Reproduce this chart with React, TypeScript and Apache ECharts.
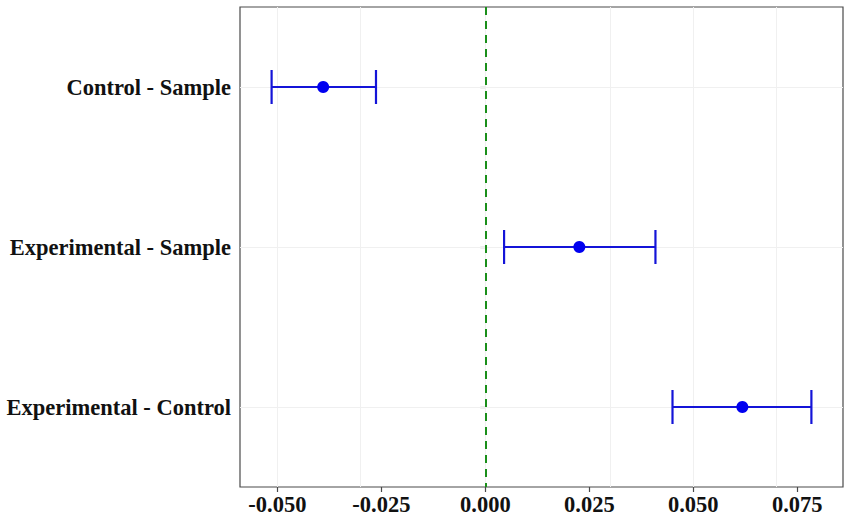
import React, { useEffect, useRef } from "react";
import * as echarts from "echarts";

const categories = ["Control - Sample", "Experimental - Sample", "Experimental - Control"];
const estimates = [-0.039, 0.0226, 0.0618];
const lowerCI = [-0.0514, 0.0045, 0.045];
const upperCI = [-0.0263, 0.0409, 0.0784];
const xTicks = [-0.05, -0.025, 0, 0.025, 0.05, 0.075];
const xMin = -0.059;
const xMax = 0.086;
const refValue = 0;

const FONT = "'Liberation Serif', 'Times New Roman', serif";

export default function App() {
  const ref = useRef<HTMLDivElement>(null);
  useEffect(() => {
    document.body.style.margin = "0";
    if (!ref.current) return;
    const chart = echarts.init(ref.current, undefined, { renderer: "svg" });
    const errData = categories.map((_, i) => [lowerCI[i], upperCI[i], i]);
    const ptData = categories.map((_, i) => [estimates[i], i]);
    chart.setOption({
      animation: false,
      backgroundColor: "#ffffff",
      grid: {
        left: 240,
        right: 8,
        top: 7,
        bottom: 34,
        show: true,
        borderColor: "#4a4a4a",
        borderWidth: 1.2,
        backgroundColor: "transparent",
      },
      xAxis: {
        type: "value",
        min: xMin,
        max: xMax,
        splitLine: { show: false },
        axisLine: { show: false },
        axisTick: {
          show: true,
          customValues: xTicks,
          length: 5,
          lineStyle: { color: "#4a4a4a", width: 1.2 },
        },
        axisLabel: {
          customValues: xTicks,
          formatter: (v: number) => v.toFixed(3),
          fontFamily: FONT,
          fontWeight: "bold",
          fontSize: 22.5,
          color: "#111111",
          margin: 6,
        },
      },
      yAxis: {
        type: "category",
        data: categories,
        inverse: true,
        boundaryGap: true,
        splitLine: { show: false },
        axisLine: { show: false },
        axisTick: {
          show: true,
          alignWithLabel: true,
          length: 5,
          lineStyle: { color: "#4a4a4a", width: 1.2 },
        },
        axisLabel: {
          fontFamily: FONT,
          fontWeight: "bold",
          fontSize: 22.5,
          color: "#111111",
          margin: 9,
        },
      },
      series: [
        {
          type: "line",
          data: [],
          z: 1,
          silent: true,
          markLine: {
            z: 1,
            silent: true,
            symbol: "none",
            label: { show: false },
            lineStyle: { color: "#f0f0f0", width: 1, type: "solid" },
            data: [
              ...xTicks.map((v) => ({ xAxis: v })),
              ...categories.map((c) => ({ yAxis: c })),
            ],
          },
        },
        {
          type: "line",
          data: [],
          z: 2,
          silent: true,
          markLine: {
            z: 2,
            silent: true,
            symbol: "none",
            label: { show: false },
            lineStyle: { color: "#1a8f1a", width: 2, type: [8, 6] },
            data: [{ xAxis: refValue }],
          },
        },
        {
          type: "custom",
          z: 4,
          encode: { x: [0, 1], y: 2 },
          data: errData,
          renderItem: (params: any, api: any) => {
            const y = api.value(2);
            const p1 = api.coord([api.value(0), y]);
            const p2 = api.coord([api.value(1), y]);
            const h = 17;
            const mk = () => ({ stroke: "#1414d8", lineWidth: 2.2 });
            return {
              type: "group",
              children: [
                { type: "line", shape: { x1: p1[0], y1: p1[1], x2: p2[0], y2: p2[1] }, style: mk() },
                { type: "line", shape: { x1: p1[0], y1: p1[1] - h, x2: p1[0], y2: p1[1] + h }, style: mk() },
                { type: "line", shape: { x1: p2[0], y1: p2[1] - h, x2: p2[0], y2: p2[1] + h }, style: mk() },
              ],
            };
          },
        },
        {
          type: "scatter",
          z: 5,
          data: ptData,
          symbol: "circle",
          symbolSize: 12,
          itemStyle: { color: "#0000f0", opacity: 1 },
        },
      ],
    });
    return () => chart.dispose();
  }, []);
  return <div ref={ref} style={{ width: 851, height: 521 }} />;
}
